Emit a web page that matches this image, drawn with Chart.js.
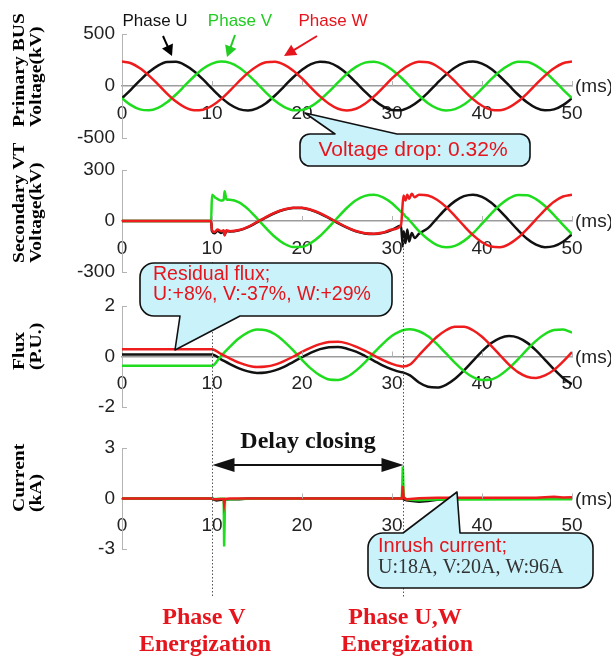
<!DOCTYPE html>
<html><head><meta charset="utf-8">
<script src="https://cdn.jsdelivr.net/npm/chart.js@4.4.1/dist/chart.umd.min.js"></script>
<style>
html,body{margin:0;padding:0;background:#fff;}
#wrap{position:relative;width:611px;height:658px;overflow:hidden;background:#fff;}
#wrap canvas{position:absolute;left:0;top:0;width:611px;height:658px;}
</style></head><body>
<div id="wrap">
<canvas id="c1" width="611" height="658"></canvas>
<canvas id="c2" width="611" height="658"></canvas>
<canvas id="c3" width="611" height="658"></canvas>
<canvas id="c4" width="611" height="658"></canvas>
</div>
<script>
// ---------------- DATA ----------------
const xTickValues = [0, 10, 20, 30, 40, 50];

// Panel 1: Primary BUS voltage (kV)
const busTicks = [-500, 0, 500];
const timeBus = [0,1,2,3,4,5,6,7,8,9,10,11,12,13,14,15,16,17,18,19,20,21,22,23,24,25,26,27,28,29,30,31,32,33,34,35,36,37,38,39,40,41,42,43,44,45,46,47,48,49,50];
const busU = [-118,-34,54,134,196,230,232,201,142,63,-25,-109,-178,-222,-235,-215,-165,-91,-5,82,157,211,234,225,184,118,34,-54,-134,-196,-230,-232,-201,-142,-63,25,109,178,222,235,215,165,91,5,-82,-157,-211,-234,-225,-184,-118];
const busV = [-118,-184,-225,-234,-211,-157,-82,5,91,165,215,235,222,178,109,25,-63,-142,-201,-232,-230,-196,-134,-54,34,118,184,225,234,211,157,82,-5,-91,-165,-215,-235,-222,-178,-109,-25,63,142,201,232,230,196,134,54,-34,-118];
const busW = [235,219,171,100,15,-73,-150,-206,-233,-228,-190,-126,-44,44,126,190,228,233,206,150,73,-15,-100,-171,-219,-235,-219,-171,-100,-15,73,150,206,233,228,190,126,44,-44,-126,-190,-228,-233,-206,-150,-73,15,100,171,219,235];

// Panel 2: Secondary VT voltage (kV)
const vtTicks = [-300, 0, 300];
const timeVT = [0,9.9,10,10.3,10.6,11,11.3,11.4,11.6,12,13,14,15,16,17,18,19,20,21,22,23,24,25,26,27,28,29,30,31,31.2,31.3,31.5,31.7,31.9,32.2,32.5,33,34,35,36,37,38,39,40,41,42,43,44,45,46,47,48,49,50];
const vtU = [0,0,-60,-72,-58,-70,-62,-80,-60,-62,-55,-36,-8,21,47,66,76,76,64,44,17,-12,-39,-61,-74,-77,-70,-52,-27,-150,-60,-130,-50,-120,-70,-100,-75,-42,16,72,117,146,155,142,109,60,3,-54,-104,-139,-154,-148,-122,-78];
const vtV = [0,0,155,140,130,120,125,175,128,125,110,70,15,-42,-94,-133,-153,-152,-129,-88,-35,23,78,122,148,154,139,104,54,45,40,26,18,6,-12,-30,-60,-108,-142,-155,-146,-117,-72,-16,42,94,133,153,152,129,88,35,-23,-78];
const vtW = [0,0,-55,-65,-50,-60,-55,-85,-55,-60,-53,-34,-6,23,49,68,78,78,66,46,19,-10,-37,-59,-72,-75,-68,-50,-25,110,150,120,155,130,160,140,155,150,125,83,29,-29,-83,-125,-150,-154,-136,-99,-48,10,66,113,144,155];

// Panel 3: Flux (P.U.)
const fluxTicks = [-2, 0, 2];
const timeFlux = [0,10,11,12,13,14,15,16,17,18,19,20,21,22,23,24,25,26,27,28,29,30,31,31.2,32,33,34,35,36,37,38,39,40,41,42,43,44,45,46,47,48,49,50];
const fluxU = [0.08,0.08,-0.11,-0.30,-0.47,-0.59,-0.65,-0.63,-0.55,-0.41,-0.22,-0.03,0.15,0.29,0.37,0.38,0.31,0.19,0.02,-0.17,-0.36,-0.51,-0.62,-0.63,-0.75,-1.03,-1.20,-1.23,-1.12,-0.88,-0.55,-0.17,0.20,0.52,0.73,0.81,0.75,0.55,0.24,-0.13,-0.51,-0.85,-1.10];
const fluxV = [-0.37,-0.37,0.02,0.39,0.72,0.96,1.07,1.04,0.88,0.60,0.25,-0.13,-0.48,-0.75,-0.91,-0.93,-0.81,-0.56,-0.23,0.15,0.51,0.82,1.01,1.04,1.08,1.00,0.80,0.49,0.12,-0.25,-0.58,-0.82,-0.93,-0.91,-0.74,-0.46,-0.11,0.27,0.62,0.89,1.05,1.07,0.95];
const fluxW = [0.29,0.29,0.10,-0.08,-0.24,-0.36,-0.42,-0.40,-0.32,-0.18,-0.01,0.18,0.35,0.49,0.57,0.58,0.52,0.39,0.23,0.04,-0.14,-0.29,-0.39,-0.40,-0.32,0.05,0.43,0.78,1.04,1.18,1.18,1.04,0.78,0.43,0.05,-0.32,-0.62,-0.80,-0.85,-0.75,-0.53,-0.20,0.17];

// Panel 4: Current (kA)
const curTicks = [-3, 0, 3];
const timeCur = [0,10,10.2,10.5,11,11.3,11.35,11.45,12,13,14,31.1,31.2,31.3,31.6,32,33,34,35,36,37,38,46,47,48,49,50];
const curU = [0,0,-0.06,-0.12,-0.08,-0.07,-0.07,-0.06,-0.05,-0.05,0,0,0,-0.05,-0.10,-0.14,-0.20,-0.15,-0.08,-0.04,-0.02,0,0,0,0,0,0];
const curV = [0,0,-0.03,-0.03,-0.02,-0.02,-2.85,-0.05,-0.04,-0.03,-0.02,0,1.9,0.1,-0.05,-0.08,-0.10,-0.08,-0.06,-0.06,-0.06,-0.06,-0.05,-0.04,-0.04,-0.04,-0.04];
const curW = [0,0,-0.03,-0.05,-0.03,-0.03,-0.35,-0.03,0,0,0,0,0.75,0.05,-0.05,-0.03,0.02,0.03,0.05,0.05,0.05,0.05,0.05,0.08,0.10,0.06,0.08];

// ---------------- STYLE ----------------
const C_U = '#111111', C_V = '#1fdc1f', C_W = '#ee1c1c';
const RED_TXT = '#e6141c';
const SANS = '"Liberation Sans", Arial, sans-serif';
const SERIF = '"Liberation Serif", "Times New Roman", serif';

const pts = (t, v) => t.map((x, i) => ({x: x, y: v[i]}));

const panelDeco = {
  id: 'panelDeco',
  afterDraw(chart, args, o) {
    const ctx = chart.ctx, a = chart.chartArea;
    const xs = chart.scales.x, ys = chart.scales.y;
    const y0 = ys.getPixelForValue(0);
    ctx.save();
    ctx.strokeStyle = '#b4b4b4'; ctx.lineWidth = 1;
    [ys.max, ys.min].forEach(v => {
      const py = Math.round(ys.getPixelForValue(v)) + 0.5;
      ctx.beginPath(); ctx.moveTo(a.left, py); ctx.lineTo(a.left + 5, py); ctx.stroke();
    });
    xTickValues.slice(1).forEach(v => {
      const px = Math.round(xs.getPixelForValue(v)) + 0.5;
      ctx.beginPath(); ctx.moveTo(px, y0); ctx.lineTo(px, y0 - 5); ctx.stroke();
    });
    ctx.fillStyle = '#222'; ctx.font = '19px ' + SANS;
    ctx.textAlign = 'left'; ctx.textBaseline = 'middle';
    ctx.fillText('(ms)', a.right + 3, y0 + 1);
    // y title
    ctx.translate(20, o.titleBottom);
    ctx.rotate(-Math.PI / 2);
    ctx.scale(1.09, 0.88);
    ctx.font = 'bold 18px ' + SERIF; ctx.fillStyle = '#000';
    ctx.fillText(o.title[0], 0, 0);
    ctx.fillText(o.title[1], 0, 17 / 0.88);
    ctx.restore();
  }
};

function callout(ctx, x1, y1, x2, y2, r, p) {
  ctx.beginPath();
  ctx.moveTo(x1 + r, y1);
  if (p.side === 'top') { ctx.lineTo(p.a, y1); ctx.lineTo(p.tx, p.ty); ctx.lineTo(p.b, y1); }
  ctx.lineTo(x2 - r, y1);
  ctx.arcTo(x2, y1, x2, y1 + r, r);
  ctx.lineTo(x2, y2 - r);
  ctx.arcTo(x2, y2, x2 - r, y2, r);
  if (p.side === 'bottom') { ctx.lineTo(p.b, y2); ctx.lineTo(p.tx, p.ty); ctx.lineTo(p.a, y2); }
  ctx.lineTo(x1 + r, y2);
  ctx.arcTo(x1, y2, x1, y2 - r, r);
  ctx.lineTo(x1, y1 + r);
  ctx.arcTo(x1, y1, x1 + r, y1, r);
  ctx.closePath();
  ctx.fillStyle = '#c9f2fb'; ctx.fill();
  ctx.lineWidth = 1.6; ctx.strokeStyle = '#111'; ctx.lineJoin = 'round'; ctx.stroke();
}

function arrowHead(ctx, x1, y1, x2, y2, len, hw, color) {
  const ang = Math.atan2(y2 - y1, x2 - x1);
  ctx.fillStyle = color;
  ctx.beginPath();
  ctx.moveTo(x2, y2);
  ctx.lineTo(x2 - len * Math.cos(ang) + hw * Math.sin(ang), y2 - len * Math.sin(ang) - hw * Math.cos(ang));
  ctx.lineTo(x2 - len * Math.cos(ang) - hw * Math.sin(ang), y2 - len * Math.sin(ang) + hw * Math.cos(ang));
  ctx.closePath(); ctx.fill();
}
function arrow(ctx, x1, y1, x2, y2, color, len, hw, lw) {
  const ang = Math.atan2(y2 - y1, x2 - x1);
  ctx.strokeStyle = color; ctx.lineWidth = lw;
  ctx.beginPath(); ctx.moveTo(x1, y1);
  ctx.lineTo(x2 - (len - 2) * Math.cos(ang), y2 - (len - 2) * Math.sin(ang)); ctx.stroke();
  arrowHead(ctx, x1, y1, x2, y2, len, hw, color);
}

const annotations = {
  id: 'annotations',
  afterDraw(chart) {
    const ctx = chart.ctx;
    const xs = chart.scales.x;
    const xV = Math.round(xs.getPixelForValue(10)) + 0.5;
    const xUW = Math.round(xs.getPixelForValue(31.2)) + 0.5;
    ctx.save();
    // dotted energization lines
    ctx.strokeStyle = '#555'; ctx.lineWidth = 1; ctx.setLineDash([1.5, 2]);
    ctx.beginPath(); ctx.moveTo(xV, 262); ctx.lineTo(xV, 597); ctx.stroke();
    ctx.beginPath(); ctx.moveTo(xUW, 238); ctx.lineTo(xUW, 597); ctx.stroke();
    ctx.setLineDash([]);

    // phase labels
    ctx.font = '17px ' + SANS; ctx.textAlign = 'center'; ctx.textBaseline = 'middle';
    ctx.fillStyle = C_U; ctx.fillText('Phase U', 155, 21);
    ctx.fillStyle = '#22cc22'; ctx.fillText('Phase V', 240, 21);
    ctx.fillStyle = RED_TXT; ctx.fillText('Phase W', 333, 21);
    arrow(ctx, 163, 36, 172, 56, '#000', 11, 6, 2);
    arrow(ctx, 235, 35, 227, 57, '#22cc22', 11, 6, 2);
    arrow(ctx, 317, 36, 284, 56, RED_TXT, 12, 6, 2);

    // callout 1
    callout(ctx, 300, 134, 530, 166, 10, {side: 'top', a: 335, b: 397, tx: 305, ty: 113});
    ctx.fillStyle = RED_TXT; ctx.font = '21px ' + SANS; ctx.textAlign = 'center'; ctx.textBaseline = 'middle';
    ctx.fillText('Voltage drop: 0.32%', 413, 150);

    // callout 2
    callout(ctx, 140, 263, 392, 316, 14, {side: 'bottom', a: 180, b: 240, tx: 175, ty: 350});
    ctx.fillStyle = RED_TXT; ctx.font = '19.5px ' + SANS; ctx.textAlign = 'left'; ctx.textBaseline = 'alphabetic';
    ctx.fillText('Residual flux;', 153, 280);
    ctx.fillText('U:+8%, V:-37%, W:+29%', 153, 300);

    // delay closing
    ctx.fillStyle = '#111'; ctx.font = 'bold 24px ' + SERIF; ctx.textAlign = 'center'; ctx.textBaseline = 'middle';
    ctx.fillText('Delay closing', (xV + xUW) / 2, 442);
    ctx.strokeStyle = '#111'; ctx.lineWidth = 2;
    ctx.beginPath(); ctx.moveTo(xV + 15, 465); ctx.lineTo(xUW - 15, 465); ctx.stroke();
    arrowHead(ctx, xUW, 465, xV, 465, 22, 7, '#111');
    arrowHead(ctx, xV, 465, xUW, 465, 22, 7, '#111');

    // callout 3
    callout(ctx, 368, 533, 593, 588, 15, {side: 'top', a: 403, b: 460, tx: 457, ty: 492});
    ctx.textAlign = 'left'; ctx.textBaseline = 'alphabetic';
    ctx.fillStyle = RED_TXT; ctx.font = '20px ' + SANS;
    ctx.fillText('Inrush current;', 378, 552);
    ctx.fillStyle = '#333'; ctx.font = '20px ' + SERIF;
    ctx.fillText('U:18A, V:20A, W:96A', 378, 573);

    // bottom labels
    ctx.fillStyle = RED_TXT; ctx.font = 'bold 24px ' + SERIF; ctx.textAlign = 'center'; ctx.textBaseline = 'middle';
    ctx.fillText('Phase V', 204, 618);
    ctx.fillText('Energization', 205, 645);
    ctx.fillText('Phase U,W', 405, 618);
    ctx.fillText('Energization', 407, 645);
    ctx.restore();
  }
};

function makePanel(id, opt) {
  const ds = (label, t, v, color, order) => ({
    label: label, data: pts(t, v), borderColor: color, backgroundColor: color,
    borderWidth: 2.5, pointRadius: 0, fill: false, order: order,
    cubicInterpolationMode: opt.straight ? 'default' : 'monotone', tension: 0
  });
  return new Chart(document.getElementById(id), {
    type: 'line',
    data: { datasets: [
      ds('Phase U', opt.t, opt.u, C_U, 3),
      ds('Phase V', opt.t, opt.v, C_V, 2),
      ds('Phase W', opt.t, opt.w, C_W, 1)
    ]},
    options: {
      responsive: false, animation: false, devicePixelRatio: 1,
      layout: { padding: { left: 0, right: 611 - 572, top: opt.top, bottom: 658 - opt.bottom } },
      plugins: { legend: { display: false }, tooltip: { enabled: false }, panelDeco: { title: opt.title, titleBottom: opt.titleBottom } },
      scales: {
        x: {
          type: 'linear', min: 0, max: 50, position: { y: 0 },
          afterBuildTicks: s => { s.ticks = xTickValues.map(v => ({ value: v })); },
          ticks: { autoSkip: false, maxRotation: 0, padding: 16, color: '#222', font: { family: SANS, size: 19 } },
          grid: { display: false, drawTicks: false },
          border: { display: true, color: '#9c9c9c', width: 1.5 }
        },
        y: {
          type: 'linear', min: opt.ticks[0], max: opt.ticks[opt.ticks.length - 1], position: 'left',
          afterBuildTicks: s => { s.ticks = opt.ticks.map(v => ({ value: v })); },
          afterFit: s => { s.width = 122; },
          ticks: { padding: 7, color: '#222', font: { family: SANS, size: 19 } },
          grid: { display: false, drawTicks: false },
          border: { display: true, color: '#b4b4b4', width: 1 }
        }
      }
    },
    plugins: opt.extra ? [panelDeco, annotations] : [panelDeco]
  });
}

makePanel('c1', { t: timeBus, u: busU, v: busV, w: busW, ticks: busTicks, top: 34, bottom: 138, title: ['Primary BUS', 'Voltage(kV)'], titleBottom: 127 });
makePanel('c2', { t: timeVT, u: vtU, v: vtV, w: vtW, ticks: vtTicks, top: 170, bottom: 272, title: ['Secondary VT', 'Voltage(kV)'], titleBottom: 263 });
makePanel('c3', { t: timeFlux, u: fluxU, v: fluxV, w: fluxW, ticks: fluxTicks, top: 306, bottom: 407, title: ['Flux', '(P.U.)'], titleBottom: 370 });
makePanel('c4', { t: timeCur, u: curU, v: curV, w: curW, ticks: curTicks, top: 448, bottom: 549, title: ['Current', '(kA)'], titleBottom: 512, straight: true, extra: true });
</script>
</body></html>
